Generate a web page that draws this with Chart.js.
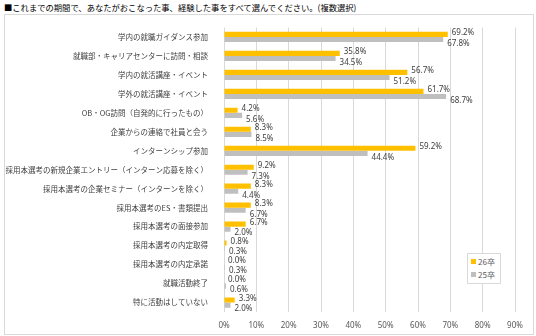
<!DOCTYPE html>
<html>
<head>
<meta charset="utf-8">
<script src="https://cdn.jsdelivr.net/npm/chart.js@4.4.1/dist/chart.umd.min.js"></script>
<style>
  html, body { margin: 0; padding: 0; background: #fff; }
  body { width: 536px; height: 336px; position: relative; overflow: hidden;
    font-family: "Noto Sans CJK JP", "Noto Sans", sans-serif; }
  #title { position: absolute; left: 4px; top: 1px; font-size: 8.3px; color: #000; white-space: nowrap; }
  #box { position: absolute; left: 4px; top: 14px; width: 528px; height: 319px; border: 1px solid #D9D9D9; }
  #box canvas { position: absolute; left: 0; top: 0; }
  #legend { position: absolute; left: 467px; top: 253px; width: 32px; height: 29px; border: 1px solid #D9D9D9;
    background: #fff; font-size: 8px; color: #595959; }
  #legend div { position: absolute; left: 3px; height: 10px; line-height: 10px; white-space: nowrap; }
  #legend span { display: inline-block; width: 5px; height: 5px; margin-right: 2px; vertical-align: 1px; }
</style>
</head>
<body>
<div id="title">■これまでの期間で、あなたがおこなった事、経験した事をすべて選んでください。(複数選択)</div>
<div id="box"><canvas id="chart" width="528" height="319"></canvas></div>
<div id="legend"></div>
<script>
const categories = [
  '学内の就職ガイダンス参加',
  '就職部・キャリアセンターに訪問・相談',
  '学内の就活講座・イベント',
  '学外の就活講座・イベント',
  'OB・OG訪問（自発的に行ったもの）',
  '企業からの連絡で社員と会う',
  'インターンシップ参加',
  '採用本選考の新規企業エントリー（インターン応募を除く）',
  '採用本選考の企業セミナー（インターンを除く）',
  '採用本選考のES・書類提出',
  '採用本選考の面接参加',
  '採用本選考の内定取得',
  '採用本選考の内定承諾',
  '就職活動終了',
  '特に活動はしていない'
];
const seriesNames = ['26卒', '25卒'];
const values26 = [69.2, 35.8, 56.7, 61.7, 4.2, 8.3, 59.2, 9.2, 8.3, 8.3, 6.7, 0.8, 0.0, 0.0, 3.3];
const values25 = [67.8, 34.5, 51.2, 68.7, 5.6, 8.5, 44.4, 7.3, 4.4, 6.7, 2.0, 0.3, 0.3, 0.6, 2.0];
const xTicks = [0, 10, 20, 30, 40, 50, 60, 70, 80, 90];
const colors = ['#FFC000', '#BFBFBF'];

// 棒の右に値ラベル
const valueLabels = {
  id: 'valueLabels',
  afterDatasetsDraw(chart) {
    const ctx = chart.ctx;
    ctx.save();
    ctx.font = '8px "Noto Sans", sans-serif';
    ctx.fillStyle = '#404040';
    ctx.textBaseline = 'middle';
    chart.data.datasets.forEach((ds, di) => {
      chart.getDatasetMeta(di).data.forEach((bar, i) => {
        const dy = di === 0 ? -1.5 : 4;
        ctx.fillText(ds.data[i].toFixed(1) + '%', bar.x + 4, bar.y + dy);
      });
    });
    ctx.restore();
  }
};

new Chart(document.getElementById('chart'), {
  type: 'bar',
  data: {
    labels: categories,
    datasets: [
      { label: seriesNames[0], data: values26, backgroundColor: colors[0] },
      { label: seriesNames[1], data: values25, backgroundColor: colors[1] }
    ]
  },
  options: {
    indexAxis: 'y',
    responsive: false,
    animation: false,
    categoryPercentage: 0.54,
    barPercentage: 1.0,
    layout: { padding: { top: 8, right: 18, bottom: 0, left: 0 } },
    plugins: { legend: { display: false }, tooltip: { enabled: false } },
    scales: {
      x: {
        min: 0,
        max: 90,
        afterBuildTicks: (scale) => { scale.ticks = xTicks.map(v => ({ value: v })); },
        grid: { color: '#D9D9D9', drawTicks: false },
        border: { display: false },
        ticks: { color: '#595959', font: { size: 8, family: '"Noto Sans", sans-serif' }, padding: 9, callback: v => v + '%' },
        afterFit: (scale) => { scale.height = 22; }
      },
      y: {
        grid: { display: false },
        border: { display: false },
        ticks: { color: '#404040', font: { size: 7.5, family: '"Noto Sans CJK JP", sans-serif' }, padding: 8, autoSkip: false },
        afterFit: (scale) => { scale.width = 219; }
      }
    }
  },
  plugins: [valueLabels]
});

const legend = document.getElementById('legend');
seriesNames.forEach((name, i) => {
  const item = document.createElement('div');
  item.style.top = (3 + i * 13) + 'px';
  item.innerHTML = '<span style="background:' + colors[i] + '"></span>' + name;
  legend.appendChild(item);
});
</script>
</body>
</html>
